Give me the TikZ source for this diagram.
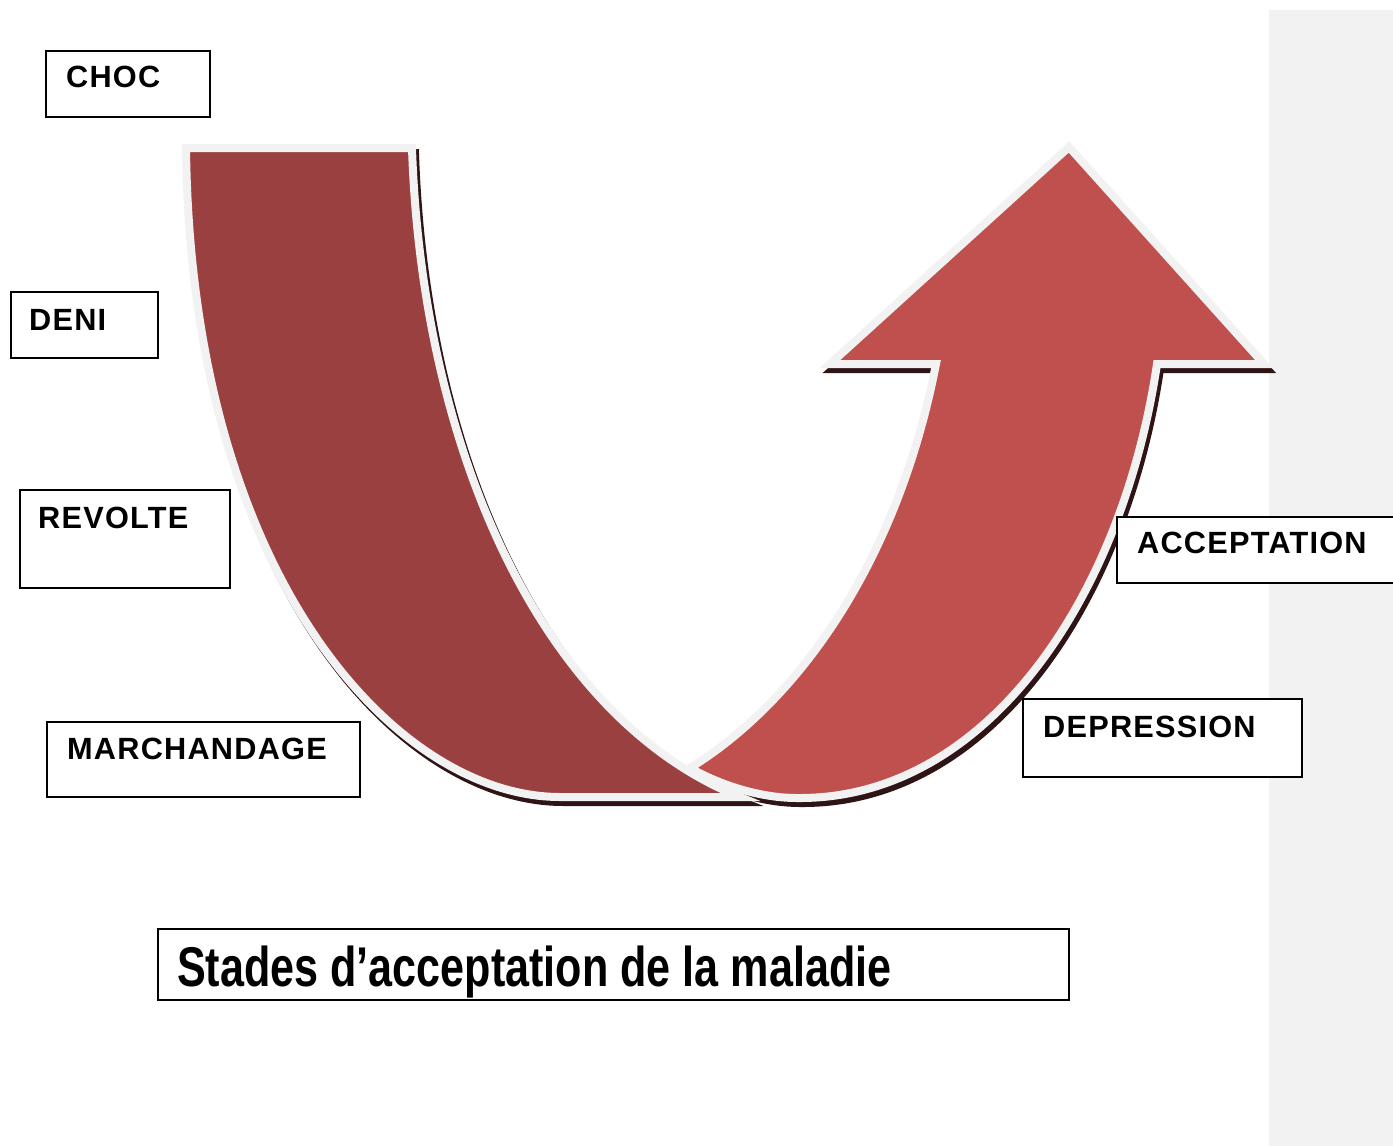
\documentclass[tikz,border=0pt]{standalone}
\usepackage{fontspec}
\setmainfont{Liberation Sans}
\newfontfamily\lblfont[LetterSpace=4]{Liberation Sans}
\newfontfamily\ttlfont{Liberation Sans}
\definecolor{darkred}{HTML}{9A4040}
\definecolor{lightred}{HTML}{C0504D}
\definecolor{rim}{HTML}{F2F2F2}
\definecolor{shade}{HTML}{2E1414}
\definecolor{panel}{HTML}{F2F2F2}
\begin{document}
\begin{tikzpicture}[x=1pt,y=-1pt,line join=miter,
  box/.style={draw=black,line width=2.5pt,fill=white,inner sep=0pt,outer sep=0pt,anchor=north west},
  lbl/.style={anchor=base west,inner sep=0pt,font=\lblfont\bfseries\fontsize{30.7}{32}\selectfont},
  ttl/.style={anchor=base west,inner sep=0pt,font=\ttlfont\bfseries\fontsize{56}{60}\selectfont},
  rimline/.style={draw=rim,line width=8pt},
  shadow/.style={fill=shade,draw=shade,line width=8pt}]
\useasboundingbox (0,0) rectangle (1393,1146);
\fill[white] (0,0) rectangle (1393,1146);
\fill[panel] (1269,10) rectangle (1393,1146);
\def\darkpath{(186,148) -- (412,148) .. controls (422,450) and (542,718) .. (740,797) -- (560,797) .. controls (398,797) and (191,580) .. cycle}
\def\lightpath{(690,768) .. controls (720,785) and (760,798) .. (797,798) .. controls (985,800) and (1122,600) .. (1157,364) -- (1264,364) -- (1069,147) -- (830,364) -- (936,364) .. controls (898,560) and (800,700) .. cycle}
\begin{scope}[shift={(3,5)}]
  \path[shadow] \darkpath;
  \path[shadow] \lightpath;
\end{scope}
\path[rimline,fill=darkred] \darkpath;
\path[rimline,fill=lightred] \lightpath;
% boxes
\node[box,minimum width=164pt,minimum height=66pt] (chocbox) at (46,51) {};
\node[box,minimum width=147pt,minimum height=66pt] (denibox) at (11,292) {};
\node[box,minimum width=210pt,minimum height=98pt] (revoltebox) at (20,490) {};
\node[box,minimum width=313pt,minimum height=75pt] (marchbox) at (47,722) {};
\node[box,minimum width=290pt,minimum height=66pt] (accbox) at (1117,517) {};
\node[box,minimum width=279pt,minimum height=78pt] (depbox) at (1023,699) {};
\node[box,minimum width=911pt,minimum height=71pt] (titlebox) at (158,929) {};
% labels
\node[lbl] (choc) at (66,87) {CHOC};
\node[lbl] (deni) at (29,330) {DENI};
\node[lbl] (revolte) at (38,528) {REVOLTE};
\node[lbl] (march) at (67,759) {MARCHANDAGE};
\node[lbl] (acc) at (1137,553) {ACCEPTATION};
\node[lbl] (dep) at (1043,737) {DEPRESSION};
\node[ttl] (title) at (177,986) {\scalebox{0.77}[1]{Stades d’acceptation de la maladie}};
\end{tikzpicture}
\end{document}
